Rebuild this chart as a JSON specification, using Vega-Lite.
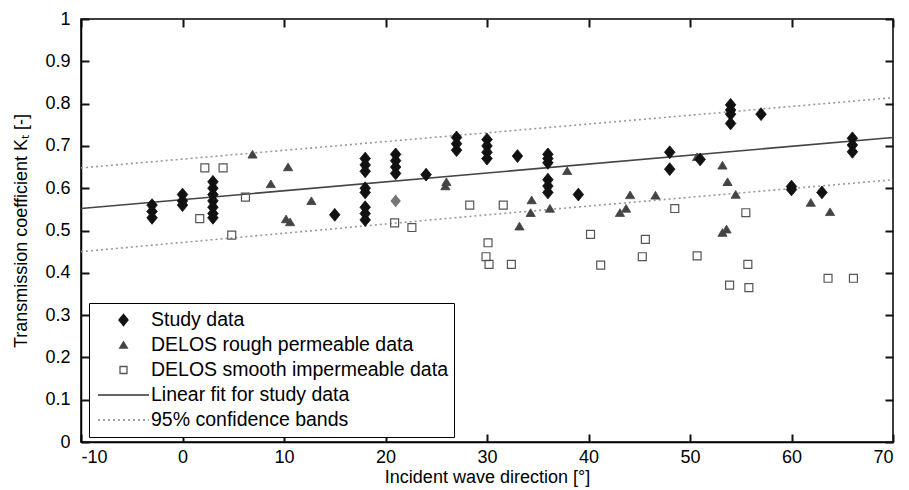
{
  "$schema": "https://vega.github.io/schema/vega-lite/v6.json",
  "width": 812,
  "height": 423,
  "autosize": {"type": "none"},
  "padding": {"left": 81, "top": 19, "right": 16, "bottom": 48},
  "background": "white",
  "config": {
    "font": "Liberation Sans",
    "view": {"stroke": "#000", "strokeWidth": 1.5},
    "axis": {
      "domainColor": "#000", "domainWidth": 1.5, "tickColor": "#111111", "tickWidth": 2, "tickSize": 8, "ticks": true, "tickOpacity": 1,
      "labelColor": "#000", "labelFontSize": 18, "titleFontSize": 18, "titleFontWeight": "normal", "titleColor": "#000",
      "grid": false, "labelFont": "Liberation Sans", "titleFont": "Liberation Sans"
    }
  },
  "datasets": {
    "pts": [
      {"x": 1.7, "y": 0.528, "series": "DELOS smooth impermeable data"}, {"x": 2.2, "y": 0.648, "series": "DELOS smooth impermeable data"}, {"x": 4.0, "y": 0.648, "series": "DELOS smooth impermeable data"}, {"x": 4.85, "y": 0.489, "series": "DELOS smooth impermeable data"}, {"x": 6.2, "y": 0.579, "series": "DELOS smooth impermeable data"},
      {"x": 20.9, "y": 0.518, "series": "DELOS smooth impermeable data"}, {"x": 22.6, "y": 0.507, "series": "DELOS smooth impermeable data"}, {"x": 28.3, "y": 0.56, "series": "DELOS smooth impermeable data"}, {"x": 30.1, "y": 0.471, "series": "DELOS smooth impermeable data"}, {"x": 29.9, "y": 0.438, "series": "DELOS smooth impermeable data"},
      {"x": 30.2, "y": 0.42, "series": "DELOS smooth impermeable data"}, {"x": 31.6, "y": 0.56, "series": "DELOS smooth impermeable data"}, {"x": 32.4, "y": 0.42, "series": "DELOS smooth impermeable data"}, {"x": 40.2, "y": 0.491, "series": "DELOS smooth impermeable data"}, {"x": 41.2, "y": 0.418, "series": "DELOS smooth impermeable data"},
      {"x": 45.3, "y": 0.438, "series": "DELOS smooth impermeable data"}, {"x": 45.6, "y": 0.479, "series": "DELOS smooth impermeable data"}, {"x": 48.5, "y": 0.552, "series": "DELOS smooth impermeable data"}, {"x": 50.7, "y": 0.44, "series": "DELOS smooth impermeable data"}, {"x": 53.9, "y": 0.371, "series": "DELOS smooth impermeable data"},
      {"x": 55.5, "y": 0.542, "series": "DELOS smooth impermeable data"}, {"x": 55.7, "y": 0.42, "series": "DELOS smooth impermeable data"}, {"x": 55.8, "y": 0.365, "series": "DELOS smooth impermeable data"}, {"x": 63.6, "y": 0.387, "series": "DELOS smooth impermeable data"}, {"x": 66.1, "y": 0.387, "series": "DELOS smooth impermeable data"},
      {"x": 6.9, "y": 0.68, "series": "DELOS rough permeable data"}, {"x": 8.7, "y": 0.61, "series": "DELOS rough permeable data"}, {"x": 10.4, "y": 0.65, "series": "DELOS rough permeable data"}, {"x": 10.2, "y": 0.527, "series": "DELOS rough permeable data"}, {"x": 10.6, "y": 0.52, "series": "DELOS rough permeable data"},
      {"x": 12.7, "y": 0.57, "series": "DELOS rough permeable data"}, {"x": 25.9, "y": 0.605, "series": "DELOS rough permeable data"}, {"x": 26, "y": 0.615, "series": "DELOS rough permeable data"}, {"x": 33.2, "y": 0.51, "series": "DELOS rough permeable data"}, {"x": 34.4, "y": 0.572, "series": "DELOS rough permeable data"},
      {"x": 34.3, "y": 0.542, "series": "DELOS rough permeable data"}, {"x": 36.2, "y": 0.552, "series": "DELOS rough permeable data"}, {"x": 37.9, "y": 0.641, "series": "DELOS rough permeable data"}, {"x": 43.1, "y": 0.542, "series": "DELOS rough permeable data"}, {"x": 43.7, "y": 0.552, "series": "DELOS rough permeable data"},
      {"x": 44.1, "y": 0.584, "series": "DELOS rough permeable data"}, {"x": 46.6, "y": 0.583, "series": "DELOS rough permeable data"}, {"x": 50.7, "y": 0.674, "series": "DELOS rough permeable data"}, {"x": 53.2, "y": 0.654, "series": "DELOS rough permeable data"}, {"x": 53.7, "y": 0.615, "series": "DELOS rough permeable data"},
      {"x": 54.5, "y": 0.585, "series": "DELOS rough permeable data"}, {"x": 53.2, "y": 0.495, "series": "DELOS rough permeable data"}, {"x": 53.6, "y": 0.503, "series": "DELOS rough permeable data"}, {"x": 61.9, "y": 0.566, "series": "DELOS rough permeable data"}, {"x": 63.8, "y": 0.544, "series": "DELOS rough permeable data"},
      {"x": -3, "y": 0.56, "series": "Study data"}, {"x": -3, "y": 0.545, "series": "Study data"}, {"x": -3, "y": 0.53, "series": "Study data"},
      {"x": 0, "y": 0.585, "series": "Study data"}, {"x": 0, "y": 0.57, "series": "Study data"}, {"x": 0, "y": 0.56, "series": "Study data"},
      {"x": 3, "y": 0.615, "series": "Study data"}, {"x": 3, "y": 0.6, "series": "Study data"}, {"x": 3, "y": 0.585, "series": "Study data"}, {"x": 3, "y": 0.57, "series": "Study data"}, {"x": 3, "y": 0.555, "series": "Study data"}, {"x": 3, "y": 0.54, "series": "Study data"}, {"x": 3, "y": 0.53, "series": "Study data"},
      {"x": 15, "y": 0.537, "series": "Study data"},
      {"x": 18, "y": 0.67, "series": "Study data"}, {"x": 18, "y": 0.655, "series": "Study data"}, {"x": 18, "y": 0.64, "series": "Study data"}, {"x": 18, "y": 0.6, "series": "Study data"}, {"x": 18, "y": 0.59, "series": "Study data"}, {"x": 18, "y": 0.555, "series": "Study data"}, {"x": 18, "y": 0.54, "series": "Study data"}, {"x": 18, "y": 0.525, "series": "Study data"},
      {"x": 21, "y": 0.68, "series": "Study data"}, {"x": 21, "y": 0.665, "series": "Study data"}, {"x": 21, "y": 0.65, "series": "Study data"}, {"x": 21, "y": 0.635, "series": "Study data"},
      {"x": 24, "y": 0.632, "series": "Study data"},
      {"x": 27, "y": 0.72, "series": "Study data"}, {"x": 27, "y": 0.705, "series": "Study data"}, {"x": 27, "y": 0.69, "series": "Study data"},
      {"x": 30, "y": 0.715, "series": "Study data"}, {"x": 30, "y": 0.7, "series": "Study data"}, {"x": 30, "y": 0.685, "series": "Study data"}, {"x": 30, "y": 0.67, "series": "Study data"},
      {"x": 33, "y": 0.676, "series": "Study data"},
      {"x": 36, "y": 0.68, "series": "Study data"}, {"x": 36, "y": 0.67, "series": "Study data"}, {"x": 36, "y": 0.66, "series": "Study data"}, {"x": 36, "y": 0.62, "series": "Study data"}, {"x": 36, "y": 0.605, "series": "Study data"}, {"x": 36, "y": 0.59, "series": "Study data"},
      {"x": 39, "y": 0.585, "series": "Study data"},
      {"x": 48, "y": 0.685, "series": "Study data"}, {"x": 48, "y": 0.645, "series": "Study data"},
      {"x": 51, "y": 0.668, "series": "Study data"},
      {"x": 54, "y": 0.797, "series": "Study data"}, {"x": 54, "y": 0.785, "series": "Study data"}, {"x": 54, "y": 0.775, "series": "Study data"}, {"x": 54, "y": 0.753, "series": "Study data"},
      {"x": 57, "y": 0.775, "series": "Study data"},
      {"x": 60, "y": 0.604, "series": "Study data"}, {"x": 60, "y": 0.597, "series": "Study data"},
      {"x": 63, "y": 0.59, "series": "Study data"},
      {"x": 66, "y": 0.718, "series": "Study data"}, {"x": 66, "y": 0.702, "series": "Study data"}, {"x": 66, "y": 0.686, "series": "Study data"}
    ],
    "grey": [
      {"x": 21, "y": 0.57, "series": "Study data (grey point)"}
    ],
    "lines": [
      {"x": -10, "y": 0.552, "kind": "fit"}, {"x": 70, "y": 0.72, "kind": "fit"},
      {"x": -10, "y": 0.648, "kind": "upper"}, {"x": 30, "y": 0.731, "kind": "upper"}, {"x": 70, "y": 0.814, "kind": "upper"},
      {"x": -10, "y": 0.45, "kind": "lower"}, {"x": 30, "y": 0.537, "kind": "lower"}, {"x": 70, "y": 0.62, "kind": "lower"}
    ]
  },
  "layer": [
    {
      "encoding": {
        "x": {"field": "x", "type": "quantitative", "scale": {"domain": [-10, 70], "nice": false, "zero": false},
          "axis": {"orient": "bottom", "values": [-10, 0, 10, 20, 30, 40, 50, 60, 70], "labelExpr": "'' + datum.value", "title": "Incident wave direction [°]", "ticks": false, "labelPadding": 6, "titlePadding": 2}},
        "y": {"field": "y", "type": "quantitative", "scale": {"domain": [0, 1], "nice": false, "zero": false},
          "axis": {"orient": "left", "values": [0, 0.1, 0.2, 0.3, 0.4, 0.5, 0.6, 0.7, 0.8, 0.9, 1], "format": "~g", "title": "Transmission coefficient Kₜ [-]", "ticks": false, "labelPadding": 11, "titlePadding": 14}},
        "shape": {"field": "series", "type": "nominal",
          "scale": {"domain": ["Study data", "DELOS rough permeable data", "DELOS smooth impermeable data", "Linear fit for study data", "95% confidence bands"],
            "range": ["M0,-0.22L0.18,0L0,0.22L-0.18,0Z", "M0,-0.13L0.15,0.12L-0.15,0.12Z", "M-0.137,-0.137H0.137V0.137H-0.137Z", "M-1,0H1", "M-1,0H1"]},
          "legend": {"orient": "none", "legendX": 8, "legendY": 284, "title": null, "strokeColor": "#000", "fillColor": "white",
            "padding": 6, "clipHeight": 22, "rowPadding": 3, "labelFontSize": 19.5, "labelColor": "#000", "symbolSize": 2601,
            "labelFont": "Liberation Sans", "labelOffset": 1, "symbolOffset": 2, "labelLimit": 400, "symbolOpacity": 1, "symbolStrokeWidth": 1.3}},
        "fill": {"field": "series", "type": "nominal",
          "scale": {"domain": ["Study data", "DELOS rough permeable data", "DELOS smooth impermeable data", "Linear fit for study data", "95% confidence bands"],
            "range": ["#111111", "#444444", "transparent", "transparent", "transparent"]}},
        "stroke": {"field": "series", "type": "nominal",
          "scale": {"domain": ["Study data", "DELOS rough permeable data", "DELOS smooth impermeable data", "Linear fit for study data", "95% confidence bands"],
            "range": ["#111111", "#444444", "#555555", "#333333", "#888888"]}},
        "strokeDash": {"field": "series", "type": "nominal",
          "scale": {"domain": ["Study data", "DELOS rough permeable data", "DELOS smooth impermeable data", "Linear fit for study data", "95% confidence bands"],
            "range": [[1, 0], [1, 0], [1, 0], [1, 0], [2, 3]]}}
      },
      "layer": [
        {"data": {"name": "lines"}, "transform": [{"filter": "datum.kind == 'fit'"}],
          "mark": {"type": "line", "color": "#444", "strokeWidth": 1.6},
          "encoding": {"shape": null, "fill": null, "stroke": null, "strokeDash": null}},
        {"data": {"name": "lines"}, "transform": [{"filter": "datum.kind != 'fit'"}],
          "mark": {"type": "line", "color": "#999", "strokeWidth": 1.6, "strokeDash": [2, 3]},
          "encoding": {"detail": {"field": "kind"}, "shape": null, "fill": null, "stroke": null, "strokeDash": null}},
        {"data": {"name": "grey"},
          "mark": {"type": "point", "shape": "M0,-0.22L0.18,0L0,0.22L-0.18,0Z", "filled": true, "color": "#777", "size": 3364, "opacity": 1},
          "encoding": {"shape": null, "fill": null, "stroke": null, "strokeDash": null}},
        {"data": {"name": "pts"}, "transform": [{"filter": "datum.series == 'DELOS smooth impermeable data'"}],
          "mark": {"type": "point", "opacity": 1, "strokeWidth": 1.2, "size": 3364}},
        {"data": {"name": "pts"}, "transform": [{"filter": "datum.series == 'DELOS rough permeable data'"}],
          "mark": {"type": "point", "opacity": 1, "strokeWidth": 1, "size": 3700}},
        {"data": {"name": "pts"}, "transform": [{"filter": "datum.series == 'Study data'"}],
          "mark": {"type": "point", "opacity": 1, "strokeWidth": 1, "size": 3364}}
      ]
    },
    {
      "data": {"name": "lines"},
      "mark": {"type": "point", "opacity": 0},
      "encoding": {
        "x": {"field": "x", "type": "quantitative", "scale": {"domain": [-10, 70], "nice": false, "zero": false},
          "axis": {"orient": "bottom", "offset": -8, "values": [-10, 0, 10, 20, 30, 40, 50, 60, 70], "labels": false, "title": null, "domain": false, "ticks": true, "tickSize": 8, "tickColor": "#111111", "tickWidth": 2}},
        "y": {"field": "y", "type": "quantitative", "scale": {"domain": [0, 1], "nice": false, "zero": false},
          "axis": {"orient": "left", "offset": -8, "values": [0, 0.1, 0.2, 0.3, 0.4, 0.5, 0.6, 0.7, 0.8, 0.9, 1], "labels": false, "title": null, "domain": false, "ticks": true, "tickSize": 8, "tickColor": "#111111", "tickWidth": 2}}
      }
    },
    {
      "data": {"name": "lines"},
      "mark": {"type": "point", "opacity": 0},
      "encoding": {
        "x": {"field": "x", "type": "quantitative", "scale": {"domain": [-10, 70], "nice": false, "zero": false},
          "axis": {"orient": "top", "offset": -8, "values": [-10, 0, 10, 20, 30, 40, 50, 60, 70], "labels": false, "title": null, "domain": false, "ticks": true, "tickSize": 8, "tickColor": "#111111", "tickWidth": 2}},
        "y": {"field": "y", "type": "quantitative", "scale": {"domain": [0, 1], "nice": false, "zero": false},
          "axis": {"orient": "right", "offset": -8, "values": [0, 0.1, 0.2, 0.3, 0.4, 0.5, 0.6, 0.7, 0.8, 0.9, 1], "labels": false, "title": null, "domain": false, "ticks": true, "tickSize": 8, "tickColor": "#111111", "tickWidth": 2}}
      }
    }
  ],
  "resolve": {"scale": {"x": "independent", "y": "independent"}}
}
